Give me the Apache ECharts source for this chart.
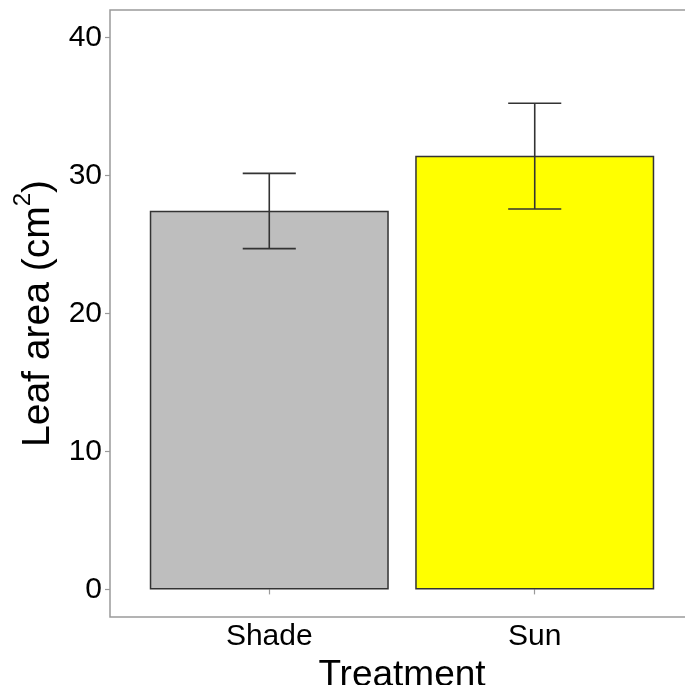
<!DOCTYPE html>
<html>
<head>
<meta charset="utf-8">
<script src="https://cdn.jsdelivr.net/npm/echarts@6/dist/echarts.min.js"></script>
<style>
  html, body { margin: 0; padding: 0; background: #fff; }
</style>
</head>
<body>
<div id="chart" style="width:685px;height:685px;"></div>
<script>
// data
var treatments = ['Shade', 'Sun']
var positions = [1, 2]
var leafArea = [27.45, 31.44]
var errLow = [24.7, 27.58]
var errHigh = [30.16, 35.24]
var barColors = ['#bebebe', '#ffff00']
var yTicks = [0, 10, 20, 30, 40]

var barData = positions.map(function (p, i) {
  return { value: [p, leafArea[i]], itemStyle: { color: barColors[i] } }
})
var errData = positions.map(function (p, i) {
  return [p, errLow[i], errHigh[i]]
})

var chart = echarts.init(document.getElementById('chart'))
chart.setOption({
  animation: false,
  textStyle: { fontFamily: 'Liberation Sans, Arial, sans-serif' },
  grid: {
    left: 110,
    top: 10,
    right: -9,
    bottom: 68,
    outerBoundsMode: 'none',
    containLabel: false,
    show: true,
    borderColor: '#9a9a9a',
    borderWidth: 1.5,
    backgroundColor: 'transparent'
  },
  xAxis: {
    type: 'value',
    min: 0.4,
    max: 2.6,
    name: 'Treatment',
    nameLocation: 'middle',
    nameGap: 30,
    nameTextStyle: { fontSize: 37, color: '#000' },
    axisLine: { show: false },
    splitLine: { show: false },
    axisTick: {
      show: true,
      length: 5,
      customValues: positions,
      lineStyle: { color: '#9a9a9a', width: 1.2 }
    },
    axisLabel: {
      customValues: positions,
      margin: 5,
      fontSize: 30,
      color: '#000',
      formatter: function (v) { return treatments[Math.round(v) - 1] }
    }
  },
  yAxis: {
    type: 'value',
    min: -2,
    max: 42,
    name: '{a|Leaf area (cm}{s|2}{a|)}',
    nameLocation: 'middle',
    nameGap: 47,
    nameTextStyle: {
      rich: {
        a: { fontSize: 39, color: '#000', verticalAlign: 'bottom', lineHeight: 46 },
        s: { fontSize: 24, color: '#000', verticalAlign: 'top', lineHeight: 46 }
      }
    },
    axisLine: { show: false },
    splitLine: { show: false },
    axisTick: {
      show: true,
      length: 5,
      customValues: yTicks,
      lineStyle: { color: '#9a9a9a', width: 1.2 }
    },
    axisLabel: {
      customValues: yTicks,
      margin: 8,
      fontSize: 30,
      color: '#000'
    }
  },
  series: [
    {
      type: 'bar',
      data: barData,
      barWidth: 239,
      itemStyle: { borderColor: '#333', borderWidth: 1.5 }
    },
    {
      type: 'custom',
      data: errData,
      z: 10,
      renderItem: function (params, api) {
        var x = api.value(0)
        var lo = api.coord([x, api.value(1)])
        var hi = api.coord([x, api.value(2)])
        var l = api.coord([x - 0.1, api.value(1)])[0]
        var r = api.coord([x + 0.1, api.value(1)])[0]
        var style = { stroke: '#333', lineWidth: 1.6 }
        return {
          type: 'group',
          children: [
            { type: 'line', shape: { x1: lo[0], y1: lo[1], x2: hi[0], y2: hi[1] }, style: style },
            { type: 'line', shape: { x1: l, y1: lo[1], x2: r, y2: lo[1] }, style: style },
            { type: 'line', shape: { x1: l, y1: hi[1], x2: r, y2: hi[1] }, style: style }
          ]
        }
      }
    }
  ]
})
window.onresize = function () { chart.resize() }
</script>
</body>
</html>
